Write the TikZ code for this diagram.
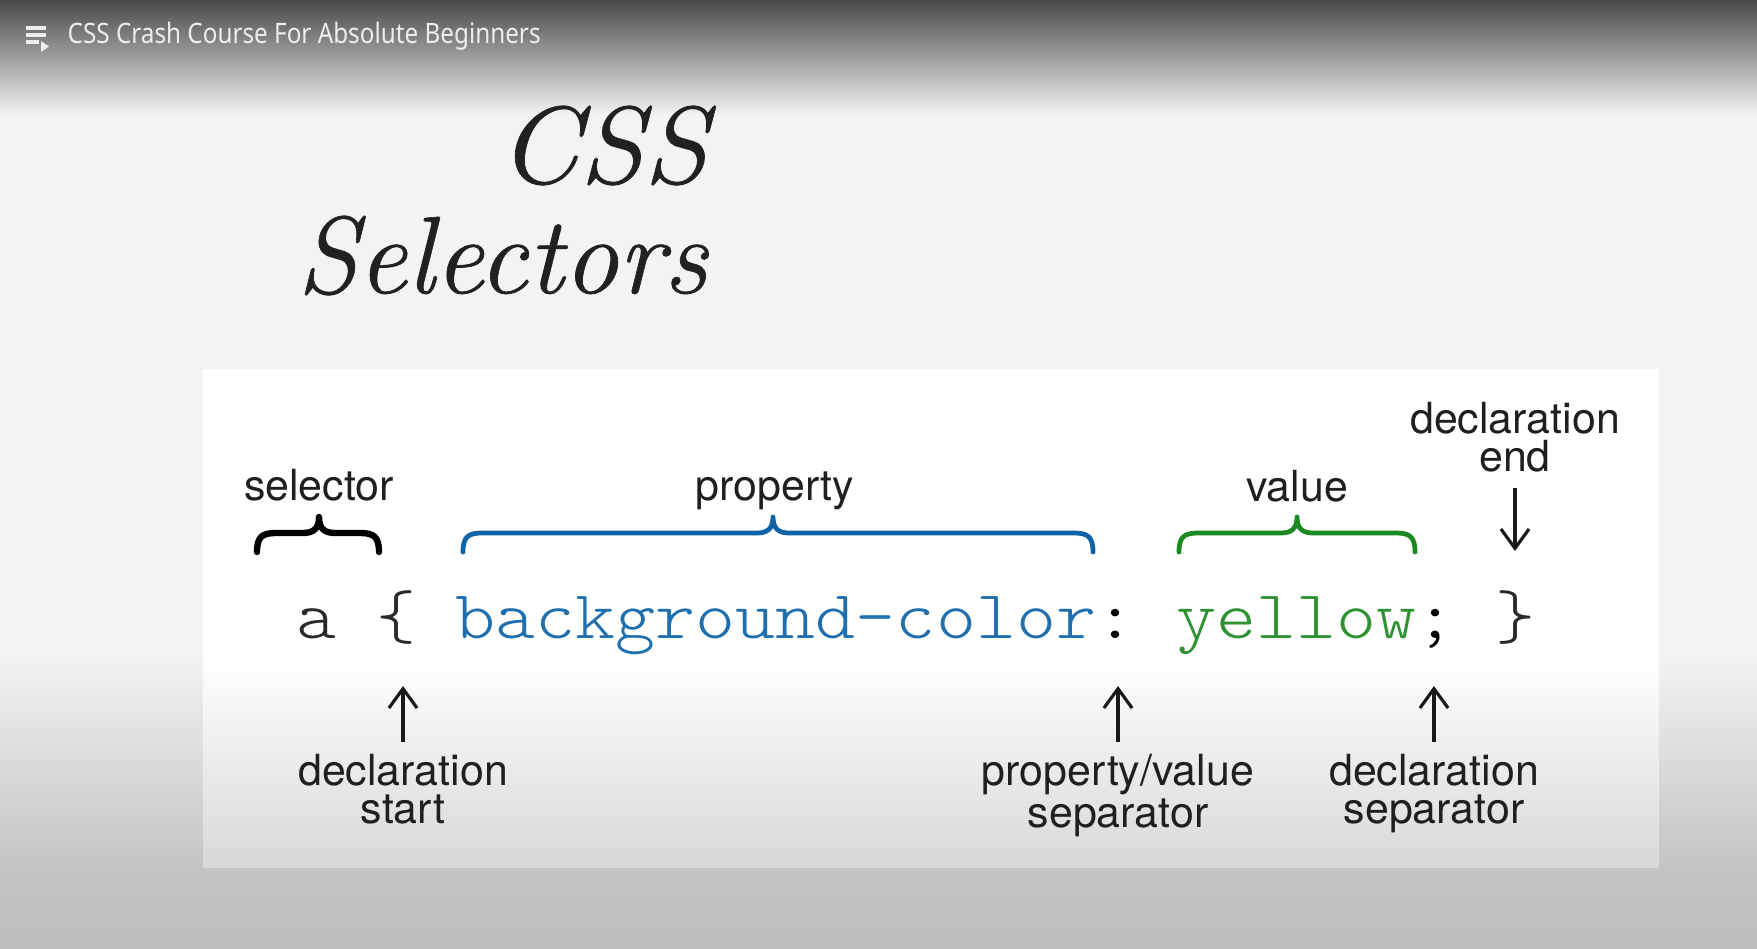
\documentclass[tikz,border=0pt]{standalone}
\usepackage{fontspec}
\usetikzlibrary{arrows.meta}
\newfontfamily\lblfont{TeX Gyre Heros}
\newfontfamily\codefont{lmmonolt10-regular}[Extension=.otf]
\newfontfamily\barfont{Noto Sans}
\newfontfamily\ttlfont{Latin Modern Roman}[ItalicFeatures={FakeBold=0.6}]
\definecolor{propblue}{HTML}{1F6EAD}
\definecolor{bracblue}{HTML}{0E63A6}
\definecolor{valgreen}{HTML}{2E9232}
\definecolor{bracgreen}{HTML}{1C8A22}
\definecolor{codegray}{HTML}{2A2A2A}
\definecolor{bartext}{HTML}{EDEDED}
\definecolor{bgtop}{HTML}{F3F3F3}
\definecolor{bgbot}{HTML}{C4C4C4}
\definecolor{bgbot2}{HTML}{BDBDBD}
\definecolor{bardark}{HTML}{4A4A4A}
\definecolor{boxbot}{HTML}{D8D8D8}
\tikzset{
  lbl/.style={font=\lblfont\fontsize{12.2pt}{10.8pt}\selectfont, text=black!88, inner sep=0pt, align=center},
  code/.style={font=\codefont\fontsize{21.68pt}{22pt}\selectfont, inner sep=0pt, anchor=base west},
  arr/.style={-{Straight Barb[length=5.5pt,width=8pt]}, line width=0.9pt, black!90},
  brc/.style={line width=1.35pt, line cap=round, line join=round},
  ttl/.style={font=\ttlfont\fontsize{31.2pt}{32pt}\selectfont\itshape, text=black!87, inner sep=0pt, anchor=base east},
}
\newcommand\mybrace[4]{%
  \draw[brc,#4] (#1,552) .. controls (#1,537) and (#1+5,533) .. (#1+19,533)
    -- (#2-16,533) .. controls (#2-6,533) and (#2,529) .. (#2,517)
    .. controls (#2,529) and (#2+6,533) .. (#2+16,533)
    -- (#3-19,533) .. controls (#3-5,533) and (#3,537) .. (#3,552);}
\newcommand\cw[1]{\scalebox{1}[0.9]{#1}}
\begin{document}
\begin{tikzpicture}[x=0.01cm,y=-0.01cm]
\useasboundingbox (0,0) rectangle (1757,949);
% background
\fill[bgtop] (0,110) rectangle (1757,656);
\shade[top color=bgtop, bottom color=bgbot] (0,655) rectangle (1757,866);
\shade[top color=bgbot, bottom color=bgbot2] (0,865) rectangle (1757,949);
\shade[top color=bardark, bottom color=bgtop] (0,0) rectangle (1757,115);
% white panel
\fill[white] (203,369) rectangle (1659,660);
\shade[top color=white, bottom color=boxbot] (203,659) rectangle (1659,867);
% playlist icon
\fill[bartext] (26,26.5) rectangle (46,30);
\fill[bartext] (26,33.5) rectangle (46,37);
\fill[bartext] (26,40.5) rectangle (39,44);
\fill[bartext] (41,41) -- (49,46.5) -- (41,52) -- cycle;
\node[anchor=base west, font=\barfont\fontsize{8pt}{9pt}\selectfont, text=bartext, inner sep=0pt] (bar) at (67,43.5) {\scalebox{0.863}[1]{CSS Crash Course For Absolute Beginners}};
% title
\node[ttl] (css) at (708,183) {\scalebox{1.06}[1]{CSS}};
\node[ttl] (sel) at (708,293) {Selectors};
% code line
\node[code, text=codegray] (ta) at (296,639) {\cw{a}};
\node[code, text=codegray] (tlb) at (376,639) {\cw{\{}};
\node[code, text=propblue] (tprop) at (455,639) {\cw{background-color}};
\node[code, text=black] (tcolon) at (1095,639) {\cw{:}};
\node[code, text=valgreen] (tval) at (1176,639) {\cw{yellow}};
\node[code, text=black] (tsemi) at (1415,639) {\cw{;}};
\node[code, text=codegray] (trb) at (1495,639) {\cw{\}}};
% braces
\mybrace{257}{319}{379}{black, line width=1.8pt}
\mybrace{463}{773}{1093}{bracblue}
\mybrace{1179}{1297}{1415}{bracgreen}
% labels
\node[lbl, anchor=base] (lsel) at (319,501) {selector};
\node[lbl, anchor=base] (lprop) at (775,501) {property};
\node[lbl, anchor=base] (lval) at (1297,502) {value};
\node[lbl, anchor=north] (lend) at (1515,402) {declaration\\end};
\node[lbl, anchor=north] (lstart) at (403,754) {declaration\\start};
\node[lbl, anchor=north] (lpv) at (1118,754) {property/value\\separator};
\node[lbl, anchor=north] (ldsep) at (1434,754) {declaration\\separator};
% arrow tip levels
\coordinate (tipb) at (0,686);
\coordinate (tipt) at (0,551);
% arrows
\draw[arr, shorten <=3.4pt] (lstart.north) -- (lstart.north |- tipb);
\draw[arr, shorten <=3.4pt] (lpv.north) -- (lpv.north |- tipb);
\draw[arr, shorten <=3.4pt] (ldsep.north) -- (ldsep.north |- tipb);
\draw[arr, shorten <=4.3pt] (lend.south) -- (lend.south |- tipt);
\end{tikzpicture}
\end{document}
